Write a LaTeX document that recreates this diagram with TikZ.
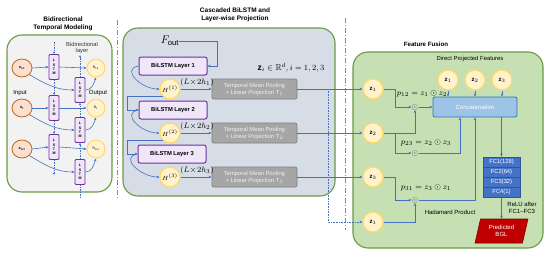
\documentclass[tikz,border=0pt]{standalone}
\usepackage{amssymb}
\usepackage{fontspec}
\setmainfont{Liberation Sans}
\usetikzlibrary{arrows.meta,shapes.geometric}
\definecolor{pgreen}{HTML}{6A9A47}
\definecolor{lpanel}{HTML}{F2F2F2}
\definecolor{mpanel}{HTML}{D6DDE6}
\definecolor{rpanel}{HTML}{C6E0B4}
\definecolor{purp}{HTML}{7030A0}
\definecolor{purpf}{HTML}{EFE6F7}
\definecolor{yb}{HTML}{FFD966}
\definecolor{yf}{HTML}{FFF2CC}
\definecolor{ob}{HTML}{C0702F}
\definecolor{of}{HTML}{FBE0CF}
\definecolor{ablue}{HTML}{4472C4}
\definecolor{poolf}{HTML}{A6A6A6}
\definecolor{poold}{HTML}{7F7F7F}
\definecolor{catf}{HTML}{9DC3E6}
\definecolor{catd}{HTML}{2E75B6}
\definecolor{fcf}{HTML}{4472C4}
\definecolor{fcd}{HTML}{2F5597}
\definecolor{bglf}{HTML}{C00000}
\definecolor{bgld}{HTML}{800000}
\tikzset{
  panel/.style={draw=pgreen, line width=1.1pt, rounded corners=15pt},
  ttl/.style={font=\bfseries\fontsize{6.5}{7.8}\selectfont, align=center, inner sep=0pt},
  lbl/.style={font=\fontsize{6}{7}\selectfont, align=center, inner sep=0pt},
  lstm/.style={draw=purp, fill=purpf, line width=0.9pt, minimum width=10pt, minimum height=25pt, inner sep=0pt, rounded corners=1pt, font=\bfseries\fontsize{3.6}{4.3}\selectfont, align=center},
  inc/.style={ellipse, draw=ob, fill=of, line width=0.9pt, minimum width=20pt, minimum height=18pt, inner sep=0pt, font=\bfseries\fontsize{4}{5}\selectfont},
  outc/.style={circle, draw=yb, fill=yf, line width=1pt, minimum size=18pt, inner sep=0pt, font=\fontsize{4}{5}\selectfont},
  zc/.style={circle, draw=yb, fill=yf, line width=1.2pt, minimum size=20pt, inner sep=0pt, font=\fontsize{6}{7}\selectfont},
  bilstm/.style={draw=purp, fill=purpf, line width=1pt, minimum width=68pt, minimum height=18pt, inner sep=0pt, rounded corners=2pt, font=\bfseries\fontsize{5.8}{7}\selectfont},
  pool/.style={draw=poold, fill=poolf, line width=0.8pt, minimum width=85pt, minimum height=20pt, inner sep=0pt, rounded corners=2pt, text=white!95!black, font=\fontsize{5.8}{7}\selectfont, align=center},
  arr/.style={-{Stealth[length=3pt,width=2.6pt]}, draw=ablue, line width=0.6pt},
  dashv/.style={draw=ablue, line width=0.5pt, dash pattern=on 1.5pt off 1pt},
  sep/.style={draw=ablue!80!white, line width=0.8pt, dash pattern=on 5pt off 2pt on 1pt off 2pt},
  fc/.style={draw=fcd, fill=fcf, line width=0.6pt, minimum width=37pt, minimum height=10pt, inner sep=0pt, text=white, font=\fontsize{5.8}{7}\selectfont},
  had/.style={inner sep=0pt, font=\fontsize{8}{9}\selectfont, text=black!75},
  mth/.style={inner sep=0pt, font=\fontsize{8}{9}\selectfont}
}
\begin{document}
\begin{tikzpicture}[x=1pt,y=-1pt]
\useasboundingbox (0,0) rectangle (550,257);
\fill[white] (0,0) rectangle (550,257);
% ---------- panels ----------
\draw[panel, fill=lpanel] (7,35) rectangle (112,192);
\draw[panel, fill=mpanel] (123,28) rectangle (335,196);
\draw[panel, fill=rpanel] (353,52) rectangle (543,248);
\draw[sep] (117,20) -- (117,198);
\draw[sep] (345,18) -- (345,230);
% ---------- titles ----------
\node[ttl] (t1) at (63,24) {Bidirectional\\Temporal Modeling};
\node[ttl] (t2) at (235,15) {Cascaded BiLSTM and\\Layer-wise Projection};
\node[ttl, font=\bfseries\fontsize{6.2}{7.5}\selectfont] (t3) at (426,44) {Feature Fusion};
% ---------- left panel ----------
\node[inc] (in1) at (22,68) {x\textsubscript{t-1}};
\node[inc] (in2) at (22,108) {x\textsubscript{t}};
\node[inc] (in3) at (22,149) {x\textsubscript{t+1}};
\node[lstm] (a1) at (54,67) {L\\S\\T\\M};
\node[lstm] (a2) at (54,108) {L\\S\\T\\M};
\node[lstm] (a3) at (54,147) {L\\S\\T\\M};
\node[lstm] (b1) at (80,90) {L\\S\\T\\M};
\node[lstm] (b2) at (80,130) {L\\S\\T\\M};
\node[lstm] (b3) at (80,172) {L\\S\\T\\M};
\node[outc] (o1) at (96,68) {h\textsubscript{t-1}};
\node[outc] (o2) at (96,108) {h\textsubscript{t}};
\node[outc] (o3) at (96,149) {h\textsubscript{t+1}};
\node[lbl] (linp) at (20,93) {Input};
\node[lbl] (lout) at (98,93) {Output};
\node[lbl, font=\fontsize{5.8}{6.8}\selectfont, text=black!80] (lbi) at (82,48) {Bidirectional\\layer};
\coordinate (c1top) at (54,42);
\coordinate (c1bot) at (54,175);
\coordinate (c2top) at (80,55);
\coordinate (c2bot) at (80,198);
\draw[dashv, -{Stealth[length=2.5pt,width=2.2pt]}] (c1top) -- (a1.north);
\draw[dashv, -{Stealth[length=2.5pt,width=2.2pt]}] (a1.south) -- (a2.north);
\draw[dashv, -{Stealth[length=2.5pt,width=2.2pt]}] (a2.south) -- (a3.north);
\draw[dashv, -{Stealth[length=2.5pt,width=2.2pt]}] (a3.south) -- (c1bot);
\draw[dashv, -{Stealth[length=2.5pt,width=2.2pt]}] (b1.north) -- (c2top);
\draw[dashv, -{Stealth[length=2.5pt,width=2.2pt]}] (b2.north) -- (b1.south);
\draw[dashv, -{Stealth[length=2.5pt,width=2.2pt]}] (b3.north) -- (b2.south);
\draw[dashv] (c2bot) -- (b3.south);
\foreach \i in {1,2,3}{
  \draw[arr] (in\i.east) -- (a\i.west);
  \draw[arr] (a\i.east) -- (o\i.west);
  \draw[arr] (in\i.south east) to[out=-30,in=180] (b\i.west);
  \draw[arr] (b\i.east) to[out=0,in=-110] (o\i.south);
}
% ---------- middle panel ----------
\node[inner sep=0pt, font=\fontsize{11}{12}\selectfont] (fout) at (170,41) {$F_{\mathrm{out}}$};
\node[bilstm] (L1) at (173,66) {BiLSTM Layer 1};
\node[bilstm] (L2) at (173,110) {BiLSTM Layer 2};
\node[bilstm] (L3) at (172,154) {BiLSTM Layer 3};
\node[zc, font=\fontsize{6.5}{7}\selectfont] (h1) at (170,89) {$H^{(1)}$};
\node[zc, font=\fontsize{6.5}{7}\selectfont] (h2) at (170,133) {$H^{(2)}$};
\node[zc, font=\fontsize{6.5}{7}\selectfont] (h3) at (170,177) {$H^{(3)}$};
\node[pool] (p1) at (254.5,89) {Temporal Mean Pooling\\+ Linear Projection T$_1$};
\node[pool] (p2) at (254.5,133) {Temporal Mean Pooling\\+ Linear Projection T$_2$};
\node[pool] (p3) at (254.5,177) {Temporal Mean Pooling\\+ Linear Projection T$_3$};
\node[mth] (d1) at (197,82) {$(L\!\times\!2h_1)$};
\node[mth] (d2) at (197,126) {$(L\!\times\!2h_2)$};
\node[mth] (d3) at (197,170) {$(L\!\times\!2h_3)$};
\node[inner sep=0pt, font=\fontsize{8.5}{10}\selectfont] (zdef) at (291,68) {$\mathbf{z}_i\in\mathbb{R}^d, i=1,2,3$};
\coordinate (fk) at (217,66);
\draw[arr] (fout.east) -| (fk) -- (L1.east);
\draw[arr] (L1.west) to[out=190,in=180,looseness=1.5] (h1.west);
\draw[arr] (L2.west) to[out=190,in=180,looseness=1.5] (h2.west);
\draw[arr] (L3.west) to[out=190,in=180,looseness=1.5] (h3.west);
\draw[arr] (h1.south west) -- ++(-35,0) |- (L2.west);
\draw[arr] (h2.south west) -- ++(-35,0) |- (L3.west);
\draw[arr] (h1.east) -- (p1.west);
\draw[arr] (h2.east) -- (p2.west);
\draw[arr] (h3.east) -- (p3.west);
% ---------- right panel ----------
\node[lbl, font=\fontsize{5.9}{7}\selectfont] (dpf) at (470,59) {Direct Projected Features};
\node[zc] (z1a) at (373,89) {$\mathbf{z}_1$};
\node[zc] (z2a) at (373,133) {$\mathbf{z}_2$};
\node[zc] (z3a) at (373,177) {$\mathbf{z}_3$};
\node[zc] (z1b) at (373,222) {$\mathbf{z}_1$};
\node[zc] (zt1) at (448,80) {$\mathbf{z}_1$};
\node[zc] (zt2) at (475,80) {$\mathbf{z}_2$};
\node[zc] (zt3) at (502,80) {$\mathbf{z}_3$};
\node[draw=catd, fill=catf, line width=0.8pt, minimum width=84pt, minimum height=20pt, rounded corners=2pt, inner sep=0pt, text=white, font=\fontsize{6}{7}\selectfont] (cat) at (475,107) {Concatenation};
\node[had] (hd1) at (415,107) {$\odot$};
\node[had] (hd2) at (415,153) {$\odot$};
\node[had] (hd3) at (415,200) {$\odot$};
\node[mth] (pl1) at (422,94) {$p_{12}=z_1\odot z_2$};
\node[mth] (pl2) at (426,143) {$p_{23}=z_2\odot z_3$};
\node[mth] (pl3) at (426,188) {$p_{31}=z_3\odot z_1$};
\node[lbl] (hp) at (450,212) {Hadamard Product};
\node[fc] (fc1) at (501.5,162) {FC1(128)};
\node[fc] (fc2) at (501.5,172) {FC2(64)};
\node[fc] (fc3) at (501.5,182) {FC3(32)};
\node[fc] (fc4) at (501.5,192) {FC4(1)};
\node[lbl] (relu) at (522,208) {ReLU after\\FC1--FC3};
\node[trapezium, trapezium left angle=74, trapezium right angle=106, trapezium stretches=true, minimum width=53pt, minimum height=24pt, inner sep=0pt, draw=bgld, fill=bglf, line width=0.6pt, text=white, font=\fontsize{6}{7.2}\selectfont, align=center] (bgl) at (501.5,231) {Predicted\\BGL};
% connectors middle -> right
\draw[arr] (p1.east) -- (z1a.west);
\draw[arr] (p2.east) -- (z2a.west);
\draw[arr] (p3.east) -- (z3a.west);
\coordinate (dt) at (328,89);
\draw[arr, densely dotted] (dt) |- (z1b.west);
% right panel connectors
\draw[arr] (zt1.south) -- (zt1.south |- cat.north);
\draw[arr] (zt2.south) -- (zt2.south |- cat.north);
\draw[arr] (zt3.south) -- (zt3.south |- cat.north);
\draw[arr] (z1a.east) -- ++(12,0) |- (hd1.west);
\draw[arr] (z2a.east) -| (hd1.south);
\draw[arr] (z2a.east) -- ++(12,0) |- (hd2.west);
\draw[arr] (z3a.east) -- ++(12,0) |- (hd3.west);
\draw[arr] (z1b.east) -| (hd3.south);
\draw[arr] (hd1.east) -- (cat.west);
\draw[arr] (hd2.east) -| ([xshift=-15pt]cat.south);
\draw[arr] (hd3.east) -| (cat.south);
\draw[arr] (cat.south -| fc1.north) -- (fc1.north);
\draw[arr] (fc4.south) -- (bgl.north);
\end{tikzpicture}
\end{document}
